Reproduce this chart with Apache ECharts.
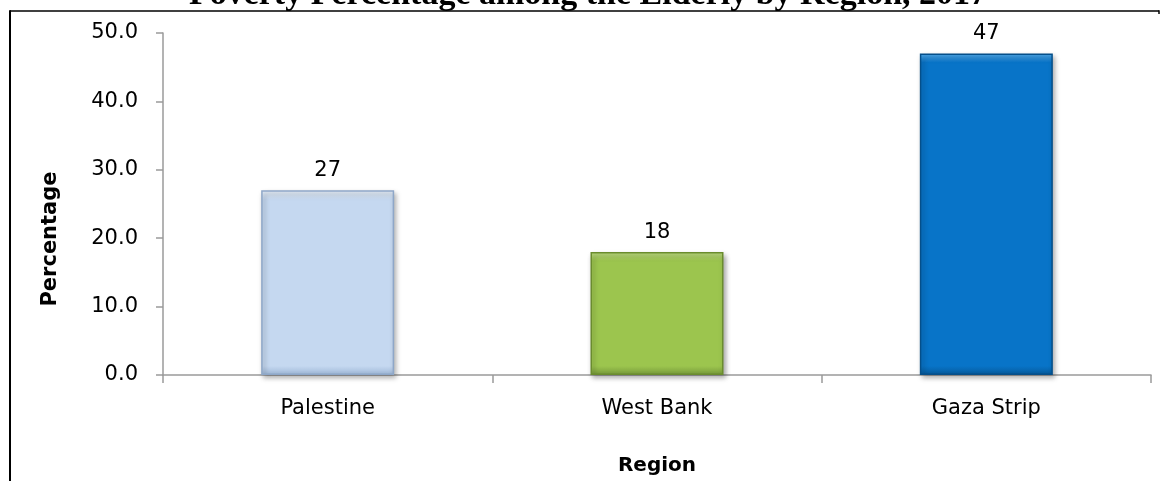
<!DOCTYPE html>
<html>
<head>
<meta charset="utf-8">
<script src="https://cdn.jsdelivr.net/npm/echarts@6/dist/echarts.min.js"></script>
<style>
html,body{margin:0;padding:0;background:#fff;}
#chart{width:1160px;height:481px;}
</style>
</head>
<body>
<div id="chart"></div>
<script>
var titleText = 'Poverty Percentage among the Elderly by Region, 2017';
var categories = ['Palestine', 'West Bank', 'Gaza Strip'];
var values = [27, 18, 47];
var yTicks = [0, 10, 20, 30, 40, 50];
var xAxisTitle = 'Region';
var yAxisTitle = 'Percentage';

var palette = [
  {top: '#EAF2FB', base: '#C5D8F0', bottom: '#9DB6D6', border: '#8EA7C8'},
  {top: '#C0DE86', base: '#9CC54E', bottom: '#76993A', border: '#6A8C2E'},
  {top: '#52ADF0', base: '#0874C8', bottom: '#05599A', border: '#054F8A'}
];

var plotHeight = 342; // pixel height of grid, used only for bevel styling
function grad(p, v) {
  var h = v / yTicks[yTicks.length - 1] * plotHeight;
  var e = Math.min(0.2, 9 / h);
  return new echarts.graphic.LinearGradient(0, 0, 0, 1, [
    {offset: 0, color: p.top},
    {offset: e, color: p.base},
    {offset: 1 - e, color: p.base},
    {offset: 1, color: p.bottom}
  ]);
}

var chart = echarts.init(document.getElementById('chart'), null, {renderer: 'canvas'});
var font = 'DejaVu Sans';
var option = {
  animation: false,
  backgroundColor: '#fff',
  grid: {left: 163, right: 9, top: 33, bottom: 106, containLabel: false},
  xAxis: {
    type: 'category',
    data: categories,
    axisLine: {show: true, lineStyle: {color: '#9A9A9A', width: 1.5}},
    axisTick: {show: true, length: 8, lineStyle: {color: '#9A9A9A', width: 1.5}},
    axisLabel: {color: '#000', fontFamily: font, fontSize: 21, margin: 23}
  },
  yAxis: {
    type: 'value',
    min: yTicks[0],
    max: yTicks[yTicks.length - 1],
    interval: 10,
    axisLine: {show: true, lineStyle: {color: '#9A9A9A', width: 1.5}},
    axisTick: {show: true, length: 7, lineStyle: {color: '#9A9A9A', width: 1.5}},
    splitLine: {show: false},
    axisLabel: {color: '#000', fontFamily: font, fontSize: 21, margin: 25,
      formatter: function (v) { return v.toFixed(1); }}
  },
  series: [{
    type: 'bar',
    barWidth: 133,
    data: values.map(function (v, i) {
      return {
        value: v,
        itemStyle: {
          color: grad(palette[i], v),
          borderColor: palette[i].border,
          borderWidth: 1.5,
          shadowColor: 'rgba(0,0,0,0.35)',
          shadowBlur: 5,
          shadowOffsetX: 2,
          shadowOffsetY: 3
        }
      };
    }),
    label: {show: true, position: 'top', distance: 9, color: '#000',
      fontFamily: font, fontSize: 21}
  }],
  graphic: [
    {type: 'line', shape: {x1: 10, y1: 11, x2: 1159, y2: 11}, style: {stroke: '#000', lineWidth: 1.5}},
    {type: 'line', shape: {x1: 1159, y1: 10.3, x2: 1159, y2: 14}, style: {stroke: '#000', lineWidth: 1.5}},
    {type: 'line', shape: {x1: 10, y1: 10.3, x2: 10, y2: 481}, style: {stroke: '#000', lineWidth: 2}},
    {type: 'text', x: 588, y: -4.5, style: {text: titleText, fontFamily: 'Liberation Serif', fontWeight: 'bold',
      fontSize: 34, fill: '#000', align: 'center', verticalAlign: 'middle'}},
    {type: 'text', x: 657, y: 466, style: {text: xAxisTitle, fontFamily: font, fontWeight: 'bold',
      fontSize: 20, fill: '#000', align: 'center', verticalAlign: 'middle'}},
    {type: 'text', x: 51, y: 239, rotation: Math.PI / 2, style: {text: yAxisTitle, fontFamily: font, fontWeight: 'bold',
      fontSize: 21, fill: '#000', align: 'center', verticalAlign: 'middle'}}
  ]
};
chart.setOption(option);
</script>
</body>
</html>
